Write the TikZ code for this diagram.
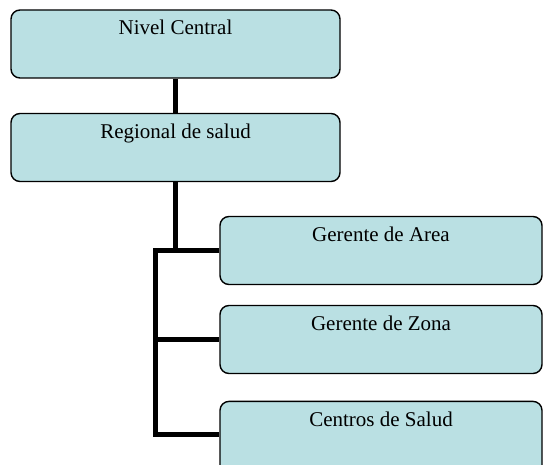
\documentclass[tikz,border=0pt]{standalone}
\usepackage{fontspec}
\setmainfont{Liberation Serif}
\definecolor{boxfill}{RGB}{186,224,227}
\begin{document}
\begin{tikzpicture}[x=1pt,y=1pt,
  orgbox/.style={draw=black, line width=1.4pt, fill=boxfill, rounded corners=9pt,
    minimum height=68pt, inner sep=0pt},
  wide/.style={minimum width=329pt},
  narrow/.style={minimum width=322pt},
  lbl/.style={anchor=base, inner sep=0pt, font=\fontsize{21}{25}\selectfont},
  conn/.style={draw=black, line width=4.5pt, line join=miter}]
\useasboundingbox (0,0) rectangle (543,-465);
\clip (0,0) rectangle (543,-465);
\node[orgbox,wide] (b1) at (175.5,-44) {};
\node[orgbox,wide] (b2) at (175.5,-147.5) {};
\node[orgbox,narrow] (b3) at (381,-250.5) {};
\node[orgbox,narrow] (b4) at (381,-339.5) {};
\node[orgbox,narrow,minimum height=90pt,anchor=north] (b5) at (381,-400.7) {};
\coordinate (bx) at (155.5,-250.5);
\coordinate (c5) at ([yshift=-34pt]b5.north west);
\node[lbl] (t1) at ([yshift=-25.6pt]b1.north) {Nivel Central};
\node[lbl] (t2) at ([yshift=-25.6pt]b2.north) {Regional de salud};
\node[lbl] (t3) at ([yshift=-25.6pt]b3.north) {Gerente de Area};
\node[lbl] (t4) at ([yshift=-25.6pt]b4.north) {Gerente de Zona};
\node[lbl] (t5) at ([yshift=-25.6pt]b5.north) {Centros de Salud};
\draw[conn] (b1.south) -- (b2.north);
\draw[conn] (b2.south) -- (b2.south |- b3.west);
\draw[conn] (b3.west) -- (bx |- b3.west) -- (bx |- c5) -- (c5);
\draw[conn] (bx |- b4.west) -- (b4.west);
\end{tikzpicture}
\end{document}
